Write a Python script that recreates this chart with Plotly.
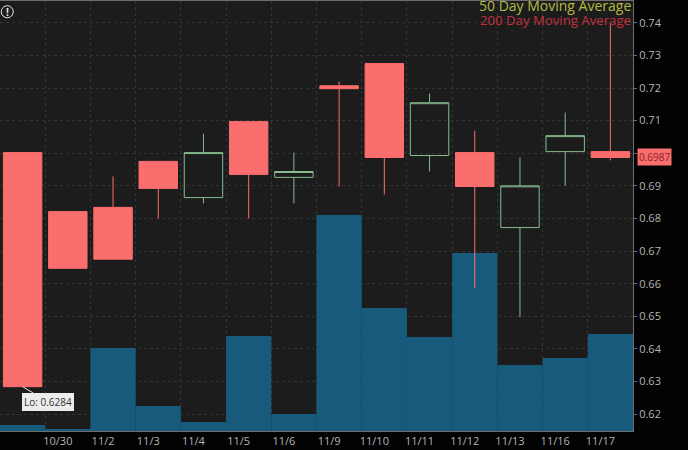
import plotly.graph_objects as go

dates = ['10/29', '10/30', '11/2', '11/3', '11/4', '11/5', '11/6', '11/9',
         '11/10', '11/11', '11/12', '11/13', '11/16', '11/17']
opens = [0.7002, 0.6821, 0.6834, 0.6975, 0.6864, 0.7097, 0.6926, 0.7207,
         0.7275, 0.6993, 0.7002, 0.6772, 0.7005, 0.7005]
closes = [0.6284, 0.6647, 0.6675, 0.6892, 0.7002, 0.6935, 0.6944, 0.7198,
          0.6987, 0.7155, 0.6898, 0.69, 0.7054, 0.6987]
highs = [0.7002, 0.6821, 0.6929, 0.6975, 0.706, 0.7097, 0.7002, 0.722,
         0.7275, 0.7183, 0.7069, 0.6987, 0.7125, 0.74]
lows = [0.6284, 0.6647, 0.6675, 0.68, 0.6846, 0.68, 0.6846, 0.6898,
        0.6873, 0.6944, 0.6586, 0.6497, 0.69, 0.6978]
volumes = [60, 20, 830, 250, 90, 950, 170, 2160, 1230, 940, 1780, 660, 730, 970]

tick_values = dates[1:]
y_ticks = [0.62, 0.63, 0.64, 0.65, 0.66, 0.67, 0.68, 0.69, 0.70, 0.71, 0.72, 0.73, 0.74]
y_labels = ['0.62', '0.63', '0.64', '0.65', '0.66', '0.67', '0.68', '0.69',
            '', '0.71', '0.72', '0.73', '0.74']

RED = '#fb6e6e'
GREEN = '#86bb8f'
GRID = '#333333'

fig = go.Figure()

# volume on the hidden base axis, candles overlaid so the wicks stay on top
fig.add_trace(go.Bar(x=dates, y=volumes, yaxis='y', width=1,
                     marker={'color': '#175a7c', 'line': {'width': 0}},
                     hoverinfo='skip', showlegend=False))
fig.add_trace(go.Candlestick(x=dates, open=opens, high=highs, low=lows, close=closes,
                             yaxis='y2', showlegend=False,
                             increasing={'line': {'color': GREEN, 'width': 1},
                                         'fillcolor': 'rgba(0,0,0,0)'},
                             decreasing={'line': {'color': RED, 'width': 1},
                                         'fillcolor': RED}))

fig.update_layout(
    width=688, height=450,
    margin={'l': 0, 'r': 55, 't': 1, 'b': 19},
    paper_bgcolor='#030303', plot_bgcolor='#1c1c1c',
    barmode='overlay', boxgap=0.15, boxgroupgap=0, showlegend=False,
    font={'family': 'Open Sans', 'color': '#b4b4b4', 'size': 11},
    xaxis={'type': 'category', 'categoryorder': 'array', 'categoryarray': dates,
           'range': [-0.5, 13.5], 'tickmode': 'array', 'tickvals': tick_values,
           'ticktext': tick_values, 'tickson': 'boundaries', 'ticklabelshift': -10,
           'ticks': '', 'showgrid': True, 'gridcolor': GRID, 'griddash': 'dot',
           'rangeslider': {'visible': False}, 'showline': True, 'linecolor': '#6e6e6e',
           'mirror': True, 'zeroline': False},
    yaxis={'range': [0, 4300], 'visible': False},
    yaxis2={'overlaying': 'y', 'side': 'right', 'range': [0.6148, 0.7467], 'tickmode': 'array',
            'tickvals': y_ticks, 'ticktext': y_labels, 'ticks': 'outside', 'ticklen': 3,
            'tickcolor': '#6e6e6e', 'showgrid': True, 'gridcolor': GRID, 'griddash': 'dot',
            'showline': True, 'linecolor': '#6e6e6e', 'zeroline': False},
)

fig.add_annotation(text='50 Day Moving Average', xref='paper', yref='paper', x=0.9985, y=0.99,
                   xanchor='right', yanchor='middle', showarrow=False,
                   font={'size': 14, 'color': '#b4bb45'}, borderpad=0)
fig.add_annotation(text='200 Day Moving Average', xref='paper', yref='paper', x=0.9985, y=0.956,
                   xanchor='right', yanchor='middle', showarrow=False,
                   font={'size': 13.2, 'color': '#c5303c'}, borderpad=0)
fig.add_annotation(text='Lo: 0.6284', x=dates[0], y=closes[0], yref='y2', ax=25, ay=15,
                   showarrow=True, arrowhead=0, arrowcolor='#e8e8e8', arrowwidth=1,
                   xanchor='center', yanchor='middle', bgcolor='#ececec', bordercolor='#ececec',
                   borderpad=1, font={'size': 10, 'color': '#333333'})
fig.add_annotation(text='0.6987', xref='paper', x=1.007, y=closes[13], yref='y2',
                   xanchor='left', yanchor='middle', showarrow=False, bgcolor=RED,
                   borderpad=1, font={'size': 10, 'color': '#8c1f1f'})
fig.add_annotation(text='<b>!</b>', xref='paper', yref='paper', x=0.0115, y=0.975,
                   xanchor='center', yanchor='middle', showarrow=False,
                   font={'size': 10, 'color': '#e6e6e6'})
fig.add_shape(type='circle', xref='x domain', yref='y domain', x0=0.002, x1=0.021,
              y0=0.961, y1=0.989, line={'color': '#e6e6e6', 'width': 1})

# the page's default body margin would push the chart 8px in
fig.write_html('out.html', config={'displayModeBar': False},
               post_script="document.body.style.margin='0';")
